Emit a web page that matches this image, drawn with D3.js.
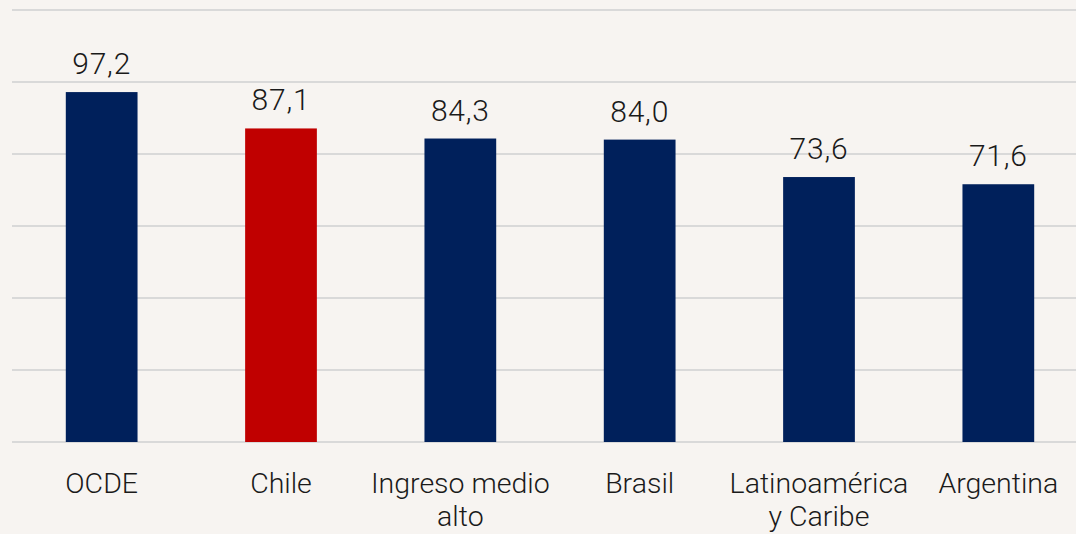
<!DOCTYPE html>
<html>
<head>
<meta charset="utf-8">
<script src="https://cdn.jsdelivr.net/npm/d3@7"></script>
<style>
  html, body { margin: 0; padding: 0; background: #f7f4f1; }
  svg { display: block; font-family: Roboto, "Liberation Sans", sans-serif; font-weight: 300; }
</style>
</head>
<body>
<svg id="chart" width="1076" height="534"></svg>
<script>
const categories = ["OCDE", "Chile", "Ingreso medio alto", "Brasil", "Latinoamérica y Caribe", "Argentina"];
const labelLines = [["OCDE"], ["Chile"], ["Ingreso medio", "alto"], ["Brasil"], ["Latinoamérica", "y Caribe"], ["Argentina"]];
const values = [97.2, 87.1, 84.3, 84.0, 73.6, 71.6];
const highlight = ["Chile"];
const yTicks = [0, 20, 40, 60, 80, 100, 120];

const svg = d3.select("svg#chart");
const margins = { top: 10, bottom: 92, left: 12, right: -12 };
const width = +svg.attr("width") - margins.left - margins.right;
const height = +svg.attr("height") - margins.top - margins.bottom;

const data = categories.map((c, i) => ({ cat: c, value: values[i], lines: labelLines[i] }));

const x = d3.scaleBand()
  .domain(categories)
  .range([0, width])
  .paddingInner(0.6)
  .paddingOuter(0.3);

const y = d3.scaleLinear().domain([0, 120]).range([height, 0]);

const g = svg.append("g").attr("transform", `translate(${margins.left},${margins.top})`);

// gridlines
g.append("g")
  .selectAll("line")
  .data(yTicks)
  .join("line")
  .attr("x1", 0)
  .attr("x2", width)
  .attr("y1", d => y(d))
  .attr("y2", d => y(d))
  .attr("stroke", "#d9d9d9")
  .attr("stroke-width", 2);

// bars
g.selectAll("rect.bar")
  .data(data)
  .join("rect")
  .attr("class", "bar")
  .attr("x", d => x(d.cat))
  .attr("width", x.bandwidth())
  .attr("y", d => y(d.value))
  .attr("height", d => y(0) - y(d.value))
  .attr("fill", d => highlight.includes(d.cat) ? "#c00000" : "#00205b");

// value labels
const fmt = v => d3.format(".1f")(v).replace(".", ",");
g.selectAll("text.val")
  .data(data)
  .join("text")
  .attr("class", "val")
  .attr("x", d => x(d.cat) + x.bandwidth() / 2)
  .attr("y", d => y(d.value) - 18)
  .attr("text-anchor", "middle")
  .attr("font-size", 30)
  .attr("letter-spacing", 0.8)
  .attr("fill", "#1a1a1a")
  .text(d => fmt(d.value));

// category labels
const cl = g.selectAll("text.cat")
  .data(data)
  .join("text")
  .attr("class", "cat")
  .attr("text-anchor", "middle")
  .attr("font-size", 28.5)
  .attr("fill", "#1a1a1a")
  .attr("transform", d => `translate(${x(d.cat) + x.bandwidth() / 2},${height + 51})`);

cl.selectAll("tspan")
  .data(d => d.lines)
  .join("tspan")
  .attr("x", 0)
  .attr("dy", (d, i) => i === 0 ? 0 : 33)
  .text(d => d);
</script>
</body>
</html>
